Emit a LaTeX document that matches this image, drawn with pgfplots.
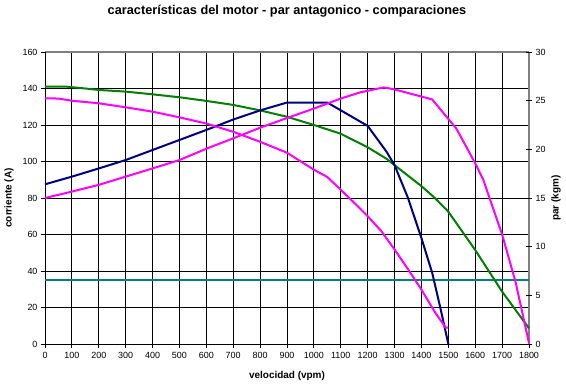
\documentclass[border=0pt]{standalone}
\usepackage{pgfplots}
\pgfplotsset{compat=1.18}
\usepackage{fontspec}
\setmainfont{Liberation Sans}
\definecolor{xlgreen}{RGB}{0,128,0}
\definecolor{xlnavy}{RGB}{0,0,128}
\definecolor{xlmag}{RGB}{255,0,255}
\definecolor{xlteal}{RGB}{0,128,128}
\definecolor{xlgray}{RGB}{128,128,128}
\begin{document}
\begin{tikzpicture}
\useasboundingbox (-45bp,-41bp) rectangle (521bp,344bp);
\begin{axis}[
  scale only axis, width=484bp, height=292bp,
  xmin=0, xmax=1800, ymin=0, ymax=160,
  xtick={0,100,...,1800}, ytick={0,20,...,160},
  grid=major, major grid style={black, line width=0.8bp},
  axis line style={draw=none},
  tick style={black, line width=0.8bp},
  tick align=outside, major tick length=4bp,
  xtick pos=lower, ytick pos=left,
  ticklabel style={font=\fontsize{9}{10}\selectfont},
  xticklabel style={yshift=-1bp},
  /pgf/number format/assume math mode=true,
  /pgf/number format/1000 sep={},
  title={características del motor - par antagonico - comparaciones},
  title style={font=\bfseries\fontsize{12.8}{14}\selectfont, at={(rel axis cs:0.5,1)}, anchor=center, yshift=35bp},
  xlabel={velocidad (vpm)},
  xlabel style={font=\bfseries\fontsize{10}{11}\selectfont, at={(rel axis cs:0.5,0)}, anchor=center, yshift=-32bp},
  ylabel={corriente (A)},
  ylabel style={font=\bfseries\fontsize{10}{11}\selectfont, at={(rel axis cs:0,0.5)}, anchor=center, yshift=36bp},
  every axis plot/.append style={line width=2bp, line join=round, no marks},
  clip=false,
]
\draw[xlgray, line width=1.5bp] (rel axis cs:0,1) -- (rel axis cs:1,1);
\draw[xlgray, line width=1.2bp] (rel axis cs:1,0) -- (rel axis cs:1,1);
\draw[black, line width=1bp] (rel axis cs:0,0) -- (rel axis cs:1,0);
\draw[black, line width=0.8bp] (rel axis cs:0,0) -- (rel axis cs:0,1);
\addplot[xlteal] coordinates {(0,35) (1800,35)};
\addplot[xlgreen] coordinates {
(0,141) (80,141) (150,140) (200,139.2) (300,138.3) (400,136.8) (500,135.2)
(600,133.2) (700,131) (800,128) (900,124.5) (1000,120) (1100,115.2)
(1200,107.8) (1270,101.5) (1300,98) (1400,86.5) (1450,80) (1500,72.5)
(1600,51.5) (1700,28.7) (1800,8.6)};
\addplot[xlnavy] coordinates {
(0,87.5) (100,91.7) (200,96.2) (300,100.8) (400,106.3) (500,111.8)
(600,117.3) (700,123) (800,128) (900,132.3) (1050,132.3) (1200,119.5)
(1270,105.4) (1300,98) (1350,80) (1400,58) (1440,39) (1470,20) (1500,0)};
\addplot[xlmag] coordinates {
(0,80) (100,83.5) (200,87.2) (300,91.7) (400,96.2) (500,100.8) (600,107)
(700,112.7) (800,118.5) (900,123.8) (1000,129) (1100,134.5) (1170,137.8)
(1260,140.6) (1300,139.5) (1440,134) (1530,118) (1600,99) (1630,90)
(1700,60) (1750,34) (1800,0.5)};
\addplot[xlmag] coordinates {
(0,134.6) (50,134.5) (100,133.3) (200,131.9) (300,129.7) (400,127.3)
(500,124.2) (600,120.8) (700,116.3) (800,110.8) (900,104.8) (1000,95.5)
(1050,91.5) (1100,84.5) (1170,74.5) (1200,70) (1250,62) (1300,51.8)
(1350,41) (1400,29.8) (1450,17.5) (1490,9) (1500,9)};
\end{axis}
\begin{axis}[
  scale only axis, width=484bp, height=292bp,
  xmin=0, xmax=1800, ymin=0, ymax=30,
  axis x line=none, axis y line*=right,
  ytick={0,5,...,30},
  axis line style={draw=none},
  tick style={black, line width=0.8bp},
  tick align=center, major tick length=6bp,
  ticklabel style={font=\fontsize{9}{10}\selectfont},
  /pgf/number format/assume math mode=true,
  ylabel={par (kgm)},
  ylabel style={font=\bfseries\fontsize{10}{11}\selectfont, at={(rel axis cs:1,0.5)}, anchor=center, yshift=-27bp},
]
\end{axis}
\end{tikzpicture}
\end{document}
